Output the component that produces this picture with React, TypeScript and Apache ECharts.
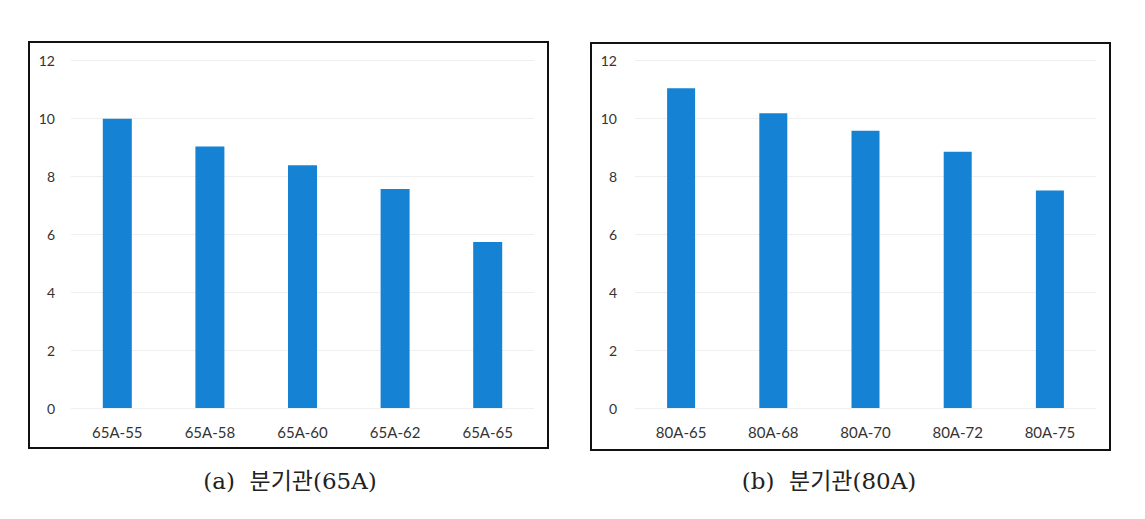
import React, { useEffect, useRef } from "react";
import * as echarts from "echarts";

const categoriesA = ["65A-55", "65A-58", "65A-60", "65A-62", "65A-65"];
const valuesA = [9.97, 9.02, 8.37, 7.55, 5.72];
const categoriesB = ["80A-65", "80A-68", "80A-70", "80A-72", "80A-75"];
const valuesB = [11.03, 10.16, 9.56, 8.84, 7.5];
const captionA = "(a)  분기관(65A)";
const captionB = "(b)  분기관(80A)";

const BAR_COLOR = "#1582d4";
const LABEL_FONT = "Lato, 'Open Sans', 'Liberation Sans', sans-serif";
const CAPTION_FONT = "'DejaVu Serif', 'Liberation Serif', 'Noto Sans CJK KR', serif";

export default function App() {
  const ref = useRef<HTMLDivElement>(null);
  useEffect(() => {
    if (!ref.current) return;
    const chart = echarts.init(ref.current, null, { renderer: "svg" });
    const yAxisBase = (gridIndex: number, margin: number) => ({
      type: "value" as const,
      gridIndex,
      min: 0,
      max: 12,
      interval: 2,
      axisLine: { show: false },
      axisTick: { show: false },
      axisLabel: { color: "#333", fontSize: 14, fontFamily: LABEL_FONT, margin },
      splitLine: { show: true, lineStyle: { color: "#efefef", width: 1 } },
    });
    const xAxisBase = (gridIndex: number, data: string[]) => ({
      type: "category" as const,
      gridIndex,
      data,
      axisLine: { show: false },
      axisTick: { show: false },
      axisLabel: { color: "#333", fontSize: 15, fontFamily: LABEL_FONT, margin: 16 },
    });
    chart.setOption({
      animation: false,
      backgroundColor: "#ffffff",
      grid: [
        { left: 71, right: 611, top: 60, bottom: 111 },
        { left: 635, right: 49, top: 60, bottom: 111 },
      ],
      xAxis: [xAxisBase(0, categoriesA), xAxisBase(1, categoriesB)],
      yAxis: [yAxisBase(0, 16), yAxisBase(1, 18)],
      series: [
        {
          type: "bar",
          xAxisIndex: 0,
          yAxisIndex: 0,
          data: valuesA,
          barWidth: 29,
          itemStyle: { color: BAR_COLOR },
        },
        {
          type: "bar",
          xAxisIndex: 1,
          yAxisIndex: 1,
          data: valuesB,
          barWidth: 28,
          itemStyle: { color: BAR_COLOR },
        },
      ],
      graphic: [
        {
          type: "rect",
          shape: { x: 29, y: 42, width: 519, height: 406 },
          style: { fill: "none", stroke: "#111", lineWidth: 2 },
          z: 10,
        },
        {
          type: "rect",
          shape: { x: 591, y: 43, width: 519, height: 407 },
          style: { fill: "none", stroke: "#111", lineWidth: 2 },
          z: 10,
        },
        {
          type: "text",
          x: 290,
          y: 481,
          style: {
            text: captionA,
            font: `23px ${CAPTION_FONT}`,
            fill: "#222",
            textAlign: "center",
            textVerticalAlign: "middle",
          },
        },
        {
          type: "text",
          x: 829,
          y: 481,
          style: {
            text: captionB,
            font: `23px ${CAPTION_FONT}`,
            fill: "#222",
            textAlign: "center",
            textVerticalAlign: "middle",
          },
        },
      ],
    });
    return () => chart.dispose();
  }, []);
  return (
    <div
      ref={ref}
      style={{ position: "fixed", left: 0, top: 0, width: 1145, height: 519, background: "#fff" }}
    />
  );
}
